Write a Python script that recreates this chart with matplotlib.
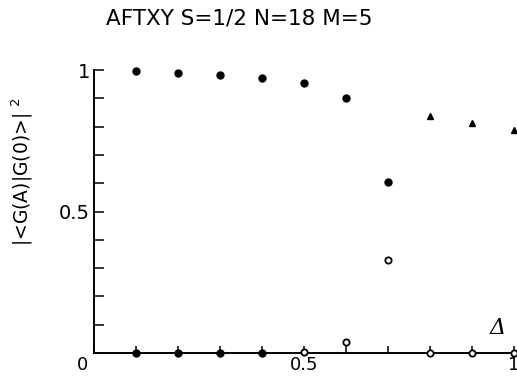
import matplotlib
matplotlib.use("Agg")
import matplotlib.pyplot as plt
import matplotlib.transforms as mtransforms
import numpy as np

# values
delta_filled = [0.1, 0.2, 0.3, 0.4, 0.5, 0.6, 0.7]
overlap_filled = [0.996, 0.988, 0.982, 0.973, 0.953, 0.902, 0.605]

delta_zero = [0.1, 0.2, 0.3, 0.4]
overlap_zero = [0.0, 0.0, 0.0, 0.0]

delta_open = [0.5, 0.6, 0.7, 0.8, 0.9, 1.0]
overlap_open = [0.005, 0.04, 0.328, 0.0, 0.0, 0.0]

delta_tri = [0.8, 0.9, 1.0]
overlap_tri = [0.839, 0.814, 0.788]

xtick_major = [0.0, 0.5, 1.0]
xtick_labels = ["0", "0.5", "1"]
ytick_major = [0.5, 1.0]
ytick_labels = ["0.5", "1"]

plt.rcParams["font.family"] = ["DejaVu Sans"]

fig = plt.figure(figsize=(5.17, 3.76), dpi=100)
ax = fig.add_axes([94 / 517, 1 - 353 / 376, 420 / 517, 283 / 376])

ax.plot(delta_filled, overlap_filled, "o", color="black", ms=5, clip_on=False, zorder=3)
ax.plot(delta_zero, overlap_zero, "o", color="black", ms=5, clip_on=False, zorder=3)
ax.plot(delta_open, overlap_open, "o", mfc="white", mec="black", mew=1.3, ms=4.5,
        clip_on=False, zorder=3)
ax.plot(delta_tri, overlap_tri, "^", color="black", ms=4.5, clip_on=False, zorder=3)

ax.set_xlim(0, 1)
ax.set_ylim(0, 1)
for side in ["top", "right"]:
    ax.spines[side].set_visible(False)
for side in ["left", "bottom"]:
    ax.spines[side].set_linewidth(1.4)

ax.set_xticks(xtick_major)
ax.set_xticklabels(xtick_labels)
ax.set_xticks(np.arange(1, 10) / 10, minor=True)
ax.set_yticks(ytick_major)
ax.set_yticklabels(ytick_labels)
ax.set_yticks(np.arange(0, 10) / 10, minor=True)

ax.tick_params(axis="x", which="both", direction="in", length=5, width=1.1, pad=2.5,
               labelsize=13)
ax.tick_params(axis="y", which="both", direction="in", length=7.5, width=1.1, pad=3,
               labelsize=14)

# the "0" at the origin sits a little left of the axis corner
shift = mtransforms.ScaledTranslation(-0.11, 0, fig.dpi_scale_trans)
lbl0 = ax.xaxis.get_major_ticks()[0].label1
lbl0.set_transform(lbl0.get_transform() + shift)

ax.text(0.961, 0.088, "\u0394", fontsize=16, family="DejaVu Serif", style="italic",
        ha="center", va="center")

fig.text(22 / 517, 1 - 172 / 376, "|<G(A)|G(0)>| $^{2}$", rotation=90,
         ha="center", va="center", fontsize=13.5)
fig.text(239.5 / 517, 1 - 18.3 / 376, "AFTXY S=1/2 N=18 M=5",
         ha="center", va="center", fontsize=15.5)

fig.savefig("out.png", dpi=100)
